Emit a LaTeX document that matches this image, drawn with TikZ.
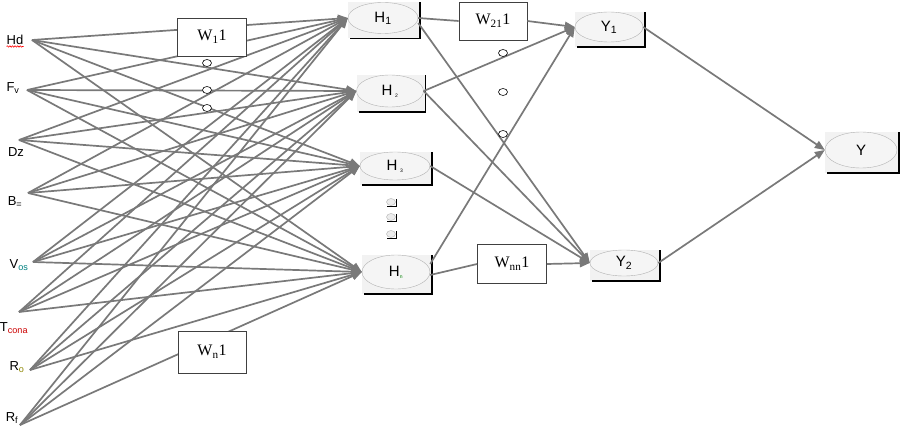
\documentclass[tikz,border=0pt]{standalone}
\usepackage{fontspec}
\setmainfont{Liberation Serif}
\setsansfont{Liberation Sans}
\usetikzlibrary{shapes.geometric,arrows.meta,decorations.pathmorphing}
\tikzset{
  conn/.style={draw=gray!95!black, line width=1.7pt},
  arr/.style={conn,-{Triangle[length=10pt,width=8pt]}},
  neuron/.style={ellipse, draw=gray!60, fill=gray!8, inner sep=0pt,
    font=\sffamily\fontsize{15}{17}\selectfont},
  wbox/.style={rectangle, draw=black!75, fill=white, line width=0.8pt,
    minimum width=68pt, minimum height=38pt, inner sep=0pt,
    font=\rmfamily\fontsize{16}{18}\selectfont},
  inlab/.style={font=\sffamily\fontsize{13}{15}\selectfont, inner sep=0pt},
  smalldot/.style={ellipse, draw=black, fill=white, minimum width=9pt,
    minimum height=7pt, inner sep=0pt, line width=0.6pt},
  grdot/.style={ellipse, draw=gray!60, fill=gray!15, minimum width=9pt,
    minimum height=7pt, inner sep=0pt, line width=0.4pt},
  shadowline/.style={draw=black, line width=1.8pt},
}
\newcommand{\neur}[6]{%
  \fill[gray!10] ({#2-#4/2},{#3-#5/2}) rectangle ({#2+#4/2+2},{#3+#5/2+5});
  \draw[shadowline] ({#2-#4/2+2},{#3+#5/2+5}) -- ({#2+#4/2+2},{#3+#5/2+5}) -- ({#2+#4/2+2},{#3-#5/2});
  \node[neuron, minimum width=#4pt, minimum height=#5pt] (#1) at (#2,#3) {#6};
}
\newcommand{\gdotbox}[3]{%
  \node[grdot] (#1) at (#2,#3) {};
  \draw[black, line width=1.1pt] ({#2-4},{#3+4.5}) -- ({#2+5.5},{#3+4.5}) -- ({#2+5.5},{#3-3.5});
}
\begin{document}
\begin{tikzpicture}[x=1pt,y=-1pt]
\useasboundingbox (0,0) rectangle (900,433);
\fill[white] (0,0) rectangle (900,433);

% input labels and line origins
\node[inlab] (lHd) at (15,40) {Hd};
\draw[red, line width=0.6pt, decorate, decoration={snake, amplitude=0.7pt, segment length=2.6pt}]
  ([yshift=-1.5pt]lHd.south west) -- ([yshift=-1.5pt]lHd.south east);
\node[inlab] (lFv) at (13,88) {F\textsubscript{v}};
\node[inlab] (lDz) at (16,152) {Dz};
\node[inlab] (lB) at (15,202) {B\textsubscript{=}};
\node[inlab] (lV) at (19,265) {V\textsubscript{\color{teal}os}};
\node[inlab] (lT) at (14,328) {T\textsubscript{\color{red!80!black}cona}};
\node[inlab] (lRo) at (17,367) {R\textsubscript{\color{olive}o}};
\node[inlab] (lRf) at (12,418) {R\textsubscript{f}};

\coordinate (iHd) at (32,40);
\coordinate (iFv) at (27,90);
\coordinate (iDz) at (19,140);
\coordinate (iB) at (28,193);
\coordinate (iV) at (33,262);
\coordinate (iT) at (19,312);
\coordinate (iRo) at (30,370);
\coordinate (iRf) at (20,425);

% neurons
\neur{h1}{383}{18}{70}{31}{H\textsubscript{1}}
\neur{h2}{390}{91}{67}{32}{H\,\textsubscript{\tiny 2}}
\neur{h3}{395}{166}{70}{28}{H\,\textsubscript{\tiny 3}}
\neur{hn}{396}{272}{68}{34}{H\textsubscript{\color{green!50!black}\tiny n}}
\neur{y1}{609}{27}{68}{30}{Y\textsubscript{1}}
\neur{y2}{624}{263}{68}{26}{Y\textsubscript{2}}
\neur{y}{861}{150}{72}{36}{Y}

% weight boxes on hidden-output paths
\node[wbox] (w21) at (493,21) {W\textsubscript{21}1};
\node[wbox, minimum width=69pt, minimum height=39pt] (wnn) at (512,264) {W\textsubscript{nn}1};

% input -> hidden
\foreach \i in {iHd,iFv,iDz,iB,iV,iT,iRo,iRf}
  \foreach \j in {h1,h2,h3,hn}
    \draw[arr] (\i) -- (\j.west);

% weight boxes on input paths
\node[wbox, minimum width=69pt] (w1) at (212,37) {W\textsubscript{1}1};
\node[wbox, minimum height=42pt] (wn1) at (212,352) {W\textsubscript{n}1};

% hidden -> output
\draw[conn] (h1.east) -- (w21.west);
\draw[arr] (w21.east) -- (y1.west);
\draw[arr] ([yshift=-5pt]h1.east) -- (y2.west);
\draw[arr] (h2.east) -- (y1.west);
\draw[arr] (h2.east) -- (y2.west);
\draw[arr] (h3.east) -- (y2.west);
\draw[arr] ([yshift=8pt]hn.east) -- (y1.west);
\draw[conn] ([yshift=-3pt]hn.east) -- (wnn.west);
\draw[arr] (wnn.east) -- (y2.west);

% output -> final
\draw[arr] (y1.east) -- (y.west);
\draw[arr] (y2.east) -- (y.west);

% small ovals (ellipsis marks)
\node[smalldot] (d1) at (207,63) {};
\node[smalldot] (d2) at (207,90) {};
\node[smalldot] (d3) at (207,108) {};
\node[smalldot] (d4) at (503,53) {};
\node[smalldot] (d5) at (503,92) {};
\node[smalldot] (d6) at (503,134) {};
\gdotbox{g1}{391}{202}
\gdotbox{g2}{391}{217}
\gdotbox{g3}{391}{234}
\end{tikzpicture}
\end{document}
